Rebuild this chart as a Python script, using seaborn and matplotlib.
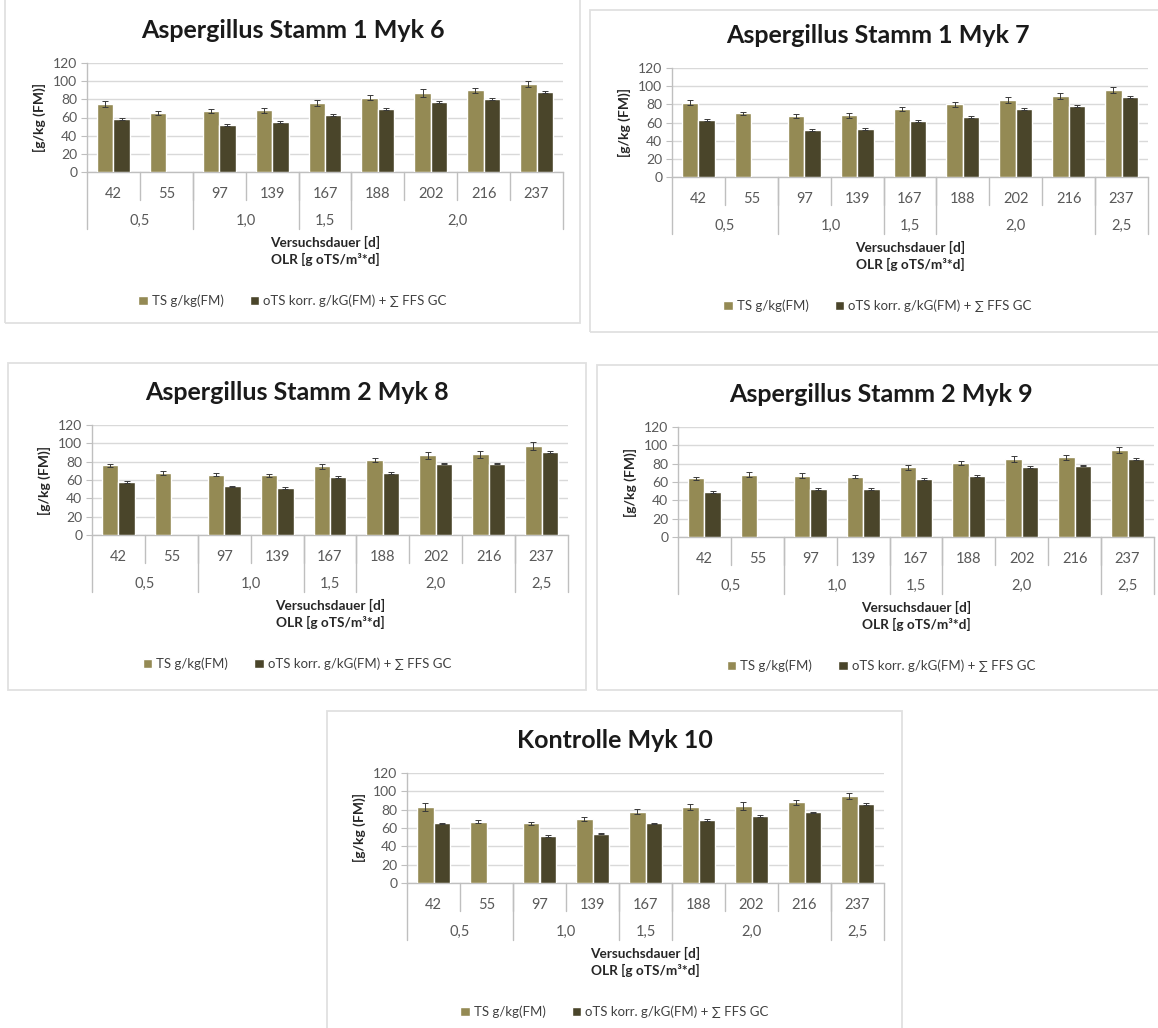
import numpy as np
import pandas as pd
import seaborn as sns
import matplotlib.pyplot as plt
from matplotlib.patches import Rectangle
from matplotlib import transforms

sns.set_style("white")
plt.rcParams['font.family'] = ['Lato', 'DejaVu Sans']

W, H = 1158, 1028

# categories
days = ["42", "55", "97", "139", "167", "188", "202", "216", "237"]
olr_groups_a = [("0,5", 2), ("1,0", 2), ("1,5", 1), ("2,0", 4)]
olr_groups_b = [("0,5", 2), ("1,0", 2), ("1,5", 1), ("2,0", 3), ("2,5", 1)]

ts_name = "TS g/kg(FM)"
ots_name = "oTS korr. g/kG(FM) + \u2211 FFS GC"

# values (g/kg FM)
myk6_ts = [75, 65, 67, 68, 76, 82, 87, 90, 97]
myk6_ots = [58, np.nan, 52, 55, 63, 69, 77, 80, 88]
myk6_ts_err = [3, 2, 2, 3, 3, 3, 4, 3, 3]
myk6_ots_err = [1, 0, 1, 1, 1, 1, 1, 1, 1]

myk7_ts = [82, 70, 67, 68, 75, 80, 85, 89, 96]
myk7_ots = [63, np.nan, 52, 53, 62, 66, 75, 78, 88]
myk7_ts_err = [3, 2, 2, 3, 2, 3, 3, 3, 3]
myk7_ots_err = [1, 0, 1, 1, 1, 1, 1, 1, 1]

myk8_ts = [76, 68, 66, 65, 75, 82, 87, 88, 97]
myk8_ots = [58, np.nan, 53, 51, 63, 68, 78, 78, 91]
myk8_ts_err = [2, 2, 2, 2, 3, 2, 4, 4, 4]
myk8_ots_err = [1, 0, 1, 1, 1, 1, 1, 1, 1]

myk9_ts = [64, 68, 67, 66, 76, 81, 85, 87, 95]
myk9_ots = [49, np.nan, 52, 52, 63, 67, 76, 78, 85]
myk9_ts_err = [2, 3, 3, 2, 3, 2, 3, 3, 3]
myk9_ots_err = [1, 0, 1, 1, 1, 1, 1, 1, 1]

myk10_ts = [83, 67, 65, 70, 78, 83, 84, 88, 95]
myk10_ots = [65, np.nan, 51, 54, 65, 69, 73, 77, 86]
myk10_ts_err = [4, 2, 2, 2, 3, 3, 4, 3, 3]
myk10_ots_err = [1, 0, 1, 1, 1, 1, 1, 1, 1]

c_ts = "#948A54"
c_ots = "#4A452A"
grid_c = "#D9D9D9"
line_c = "#BFBFBF"
txt_c = "#595959"

# (title, ts, ots, ts_err, ots_err, groups, box px, plot px)
panels = [
    ("Aspergillus Stamm 1 Myk 6", myk6_ts, myk6_ots, myk6_ts_err, myk6_ots_err,
     olr_groups_a, (5, -3, 580, 323), (87, 63, 563, 172)),
    ("Aspergillus Stamm 1 Myk 7", myk7_ts, myk7_ots, myk7_ts_err, myk7_ots_err,
     olr_groups_b, (590, 10, 1165, 332), (672, 68, 1148, 177)),
    ("Aspergillus Stamm 2 Myk 8", myk8_ts, myk8_ots, myk8_ts_err, myk8_ots_err,
     olr_groups_b, (8, 363, 586, 690), (92, 425, 568, 535)),
    ("Aspergillus Stamm 2 Myk 9", myk9_ts, myk9_ots, myk9_ts_err, myk9_ots_err,
     olr_groups_b, (597, 365, 1165, 690), (678, 427, 1154, 537)),
    ("Kontrolle Myk 10", myk10_ts, myk10_ots, myk10_ts_err, myk10_ots_err,
     olr_groups_b, (327, 711, 902, 1035), (407, 773, 884, 883)),
]

fig = plt.figure(figsize=(W / 100, H / 100), dpi=100)


def draw_panel(title, ts, ots, ts_err, ots_err, groups, box, rect):
    bx0, by0, bx1, by1 = box
    fig.add_artist(Rectangle((bx0 / W, 1 - by1 / H), (bx1 - bx0) / W, (by1 - by0) / H,
                             transform=fig.transFigure, fill=False,
                             edgecolor="#E0E0E0", lw=1.3))
    x0, y0, x1, y1 = rect
    ph = y1 - y0
    ax = fig.add_axes([x0 / W, 1 - y1 / H, (x1 - x0) / W, ph / H])

    df = pd.DataFrame({
        "day": days * 2,
        "series": [ts_name] * len(days) + [ots_name] * len(days),
        "value": list(ts) + list(ots),
    })
    sns.barplot(data=df, x="day", y="value", hue="series", order=days,
                hue_order=[ts_name, ots_name], palette=[c_ts, c_ots],
                width=0.62, saturation=1, errorbar=None, ax=ax, zorder=3)

    # error bars on top of the bars
    for cont, errs in zip(ax.containers, [ts_err, ots_err]):
        for p in cont.patches:
            h = p.get_height()
            if np.isnan(h) or h == 0:
                continue
            xc = p.get_x() + p.get_width() / 2
            e = errs[int(round(xc))]
            ax.errorbar(xc, h, yerr=e, color="#3A3A3A", lw=0.7,
                        capsize=2.5, capthick=0.7, zorder=4)

    ax.set_xlim(-0.5, len(days) - 0.5)
    ax.set_ylim(0, 120)
    ax.set_yticks(range(0, 121, 20))
    ax.grid(axis="y", color=grid_c, lw=1, zorder=0)
    ax.set_axisbelow(True)
    for s in ["top", "right"]:
        ax.spines[s].set_visible(False)
    for s in ["left", "bottom"]:
        ax.spines[s].set_color(line_c)
        ax.spines[s].set_linewidth(1)
    ax.tick_params(axis="y", length=4, color=line_c, labelsize=10,
                   labelcolor=txt_c, pad=3, left=True)
    ax.tick_params(axis="x", length=0, labelsize=10.5, labelcolor=txt_c, pad=11)
    ax.set_xlabel("")
    ax.set_ylabel("[g/kg (FM)]", fontsize=10, fontweight="bold",
                  color="#262626", labelpad=5)

    blend = transforms.blended_transform_factory(ax.transData, ax.transAxes)
    # category dividers
    for i in range(1, len(days)):
        ax.plot([i - 0.5, i - 0.5], [0, -28 / ph], transform=blend,
                color=line_c, lw=1, clip_on=False)
    # group dividers and labels
    start = 0
    bounds = [-0.5]
    for label, n in groups:
        ax.text(start + (n - 1) / 2, -49 / ph, label, transform=blend,
                ha="center", va="center", fontsize=10.5, color=txt_c)
        start += n
        bounds.append(start - 0.5)
    for b in bounds:
        ax.plot([b, b], [0, -57 / ph], transform=blend,
                color=line_c, lw=1, clip_on=False)

    ax.text(0.5, -70 / ph, "Versuchsdauer [d]", transform=ax.transAxes,
            ha="center", va="center", fontsize=9.8, fontweight="bold",
            color="#262626")
    ax.text(0.5, -87 / ph, "OLR [g oTS/m\u00b3*d]", transform=ax.transAxes,
            ha="center", va="center", fontsize=9.8, fontweight="bold",
            color="#262626")

    # title and legend centred on the chart box
    cx = ((bx0 + bx1) / 2 - x0) / (x1 - x0)
    ax.text(cx, 1 + 33 / ph, title, transform=ax.transAxes, ha="center",
            va="center", fontsize=18, fontweight="bold", color="#1A1A1A")
    handles, labels = ax.get_legend_handles_labels()
    ax.legend(handles, labels, loc="center", bbox_to_anchor=(cx, -129 / ph),
              ncol=2, frameon=False, fontsize=9.5, handlelength=0.7,
              handleheight=0.7, handletextpad=0.3, columnspacing=2.0,
              labelcolor="#404040")


for pnl in panels:
    draw_panel(*pnl)

fig.savefig("out.png", dpi=100)
